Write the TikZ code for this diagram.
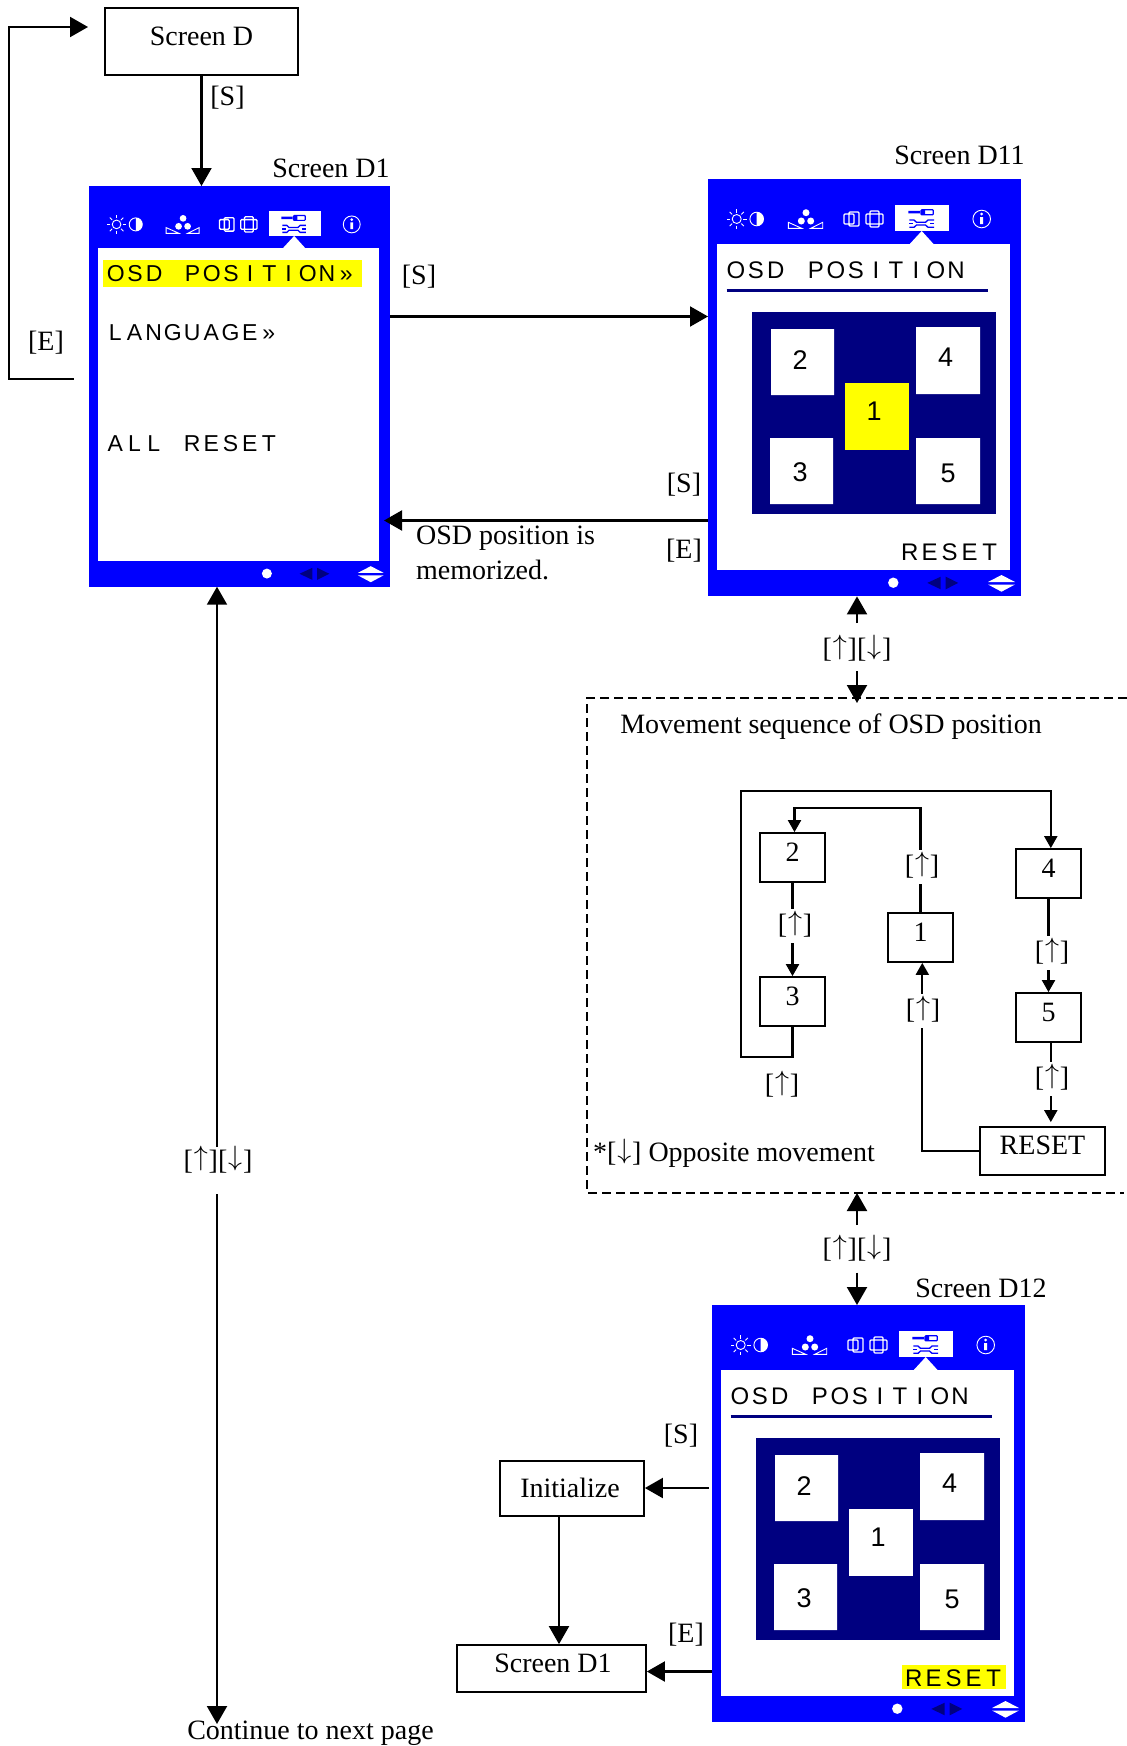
\documentclass[tikz,border=0pt]{standalone}
\usepackage{fix-cm}
\usepackage{fontspec}
\setmainfont{Liberation Serif}
\newfontfamily\osdA{Liberation Sans}
\newfontfamily\digitf{Liberation Sans}
\usetikzlibrary{arrows.meta}
\definecolor{scrblue}{RGB}{0,0,255}
\definecolor{scrnavy}{RGB}{0,0,128}
\definecolor{scryel}{RGB}{255,255,0}
\newcommand\ua{\kern.03em\raisebox{.13em}[.62em][.1em]{$\uparrow$}\kern.03em}
\newcommand\da{\kern.03em\raisebox{.13em}[.62em][.1em]{$\downarrow$}\kern.03em}
\newcommand\ub{[\ua]}
\newcommand\ud{[\ua][\da]}
\newcommand\rai[1]{\raisebox{-4pt}[0pt][0pt]{#1}}
% fixed pitch lettering of the on-screen menus
\newlength\pitch
\def\monoloop#1{\ifx#1\relax\else\makebox[\pitch][c]{#1}\expandafter\monoloop\fi}
\newcommand\mono[2]{\setlength\pitch{#1pt}\monoloop#2\relax}
\tikzset{
  txt/.style={font=\fontsize{28}{30}\selectfont,inner sep=0pt,yshift=-2pt},
  wlab/.style={txt,fill=white,inner ysep=5pt,inner xsep=0pt},
  arr/.style={-{Triangle[length=18pt,width=20pt]},line width=2.1pt},
  sarr/.style={-{Triangle[length=12pt,width=13pt]},line width=2.1pt},
  tbox/.style={draw,line width=1.8pt,fill=white,inner sep=0pt,font=\fontsize{28}{30}\selectfont},
  osd/.style={anchor=base west,inner sep=0pt,font=\osdA\fontsize{24}{24}\selectfont},
  osds/.style={anchor=base west,inner sep=0pt,font=\osdA\fontsize{23}{24}\selectfont},
  dig/.style={inner sep=0pt,font=\digitf\fontsize{27}{27}\selectfont},
  ico/.style={white,line width=.9pt},
}
\newcommand\screenframe[4]{%
  \begin{scope}[shift={(#2,#3)},scale=#4]
    \node[fill=scrblue,anchor=north west,inner sep=0pt,minimum width={313pt*#4},minimum height={417pt*#4}] (#1) at (0,0) {};
    \fill[white] (9,65) rectangle (302,391);
    % sun, half disc
    \draw[ico] (28.7,40) circle (4.5);
    \foreach \a in {0,45,...,315} \draw[ico] (28.7,40) ++(\a:6.5) -- ++(\a:3.5);
    \draw[ico] (48.7,40) circle (6.8);
    \fill[white] (48.7,46.8) arc (90:-90:6.8) -- cycle;
    % colour dots
    \fill[white] (98,33.7) circle (3.5) (93.3,42) circle (3.5) (102.7,42) circle (3.5);
    \draw[ico] (80.3,43.3) -- (80.3,49.3) -- (93.7,49.3) -- cycle (114.7,43.3) -- (114.7,49.3) -- (102.7,49.3) -- cycle;
    % geometry icons
    \draw[ico,line width=1.3pt,rounded corners=1pt] (136,35) rectangle (146,45) (141,33) rectangle (151,47);
    \draw[ico,line width=1.3pt,rounded corners=1pt] (158,35) rectangle (175,45) (162,32) rectangle (171,48);
    % tool tab
    \fill[white] (187,26) rectangle (241.3,52.3);
    \fill[white] (213.7,52) -- (201.3,65.5) -- (226,65.5) -- cycle;
    \draw[scrblue,line width=1.2pt,rounded corners=.8pt] (213,30.8) rectangle (225.3,35.8);
    \fill[scrblue] (200.3,31.8) rectangle (212,34.4) (213,30.8) rectangle (217,35.8);
    \draw[scrblue,line width=1.3pt] (201.3,41) -- (206,41) -- (208.5,43.3) -- (217.5,43.3) -- (220,41) -- (226,41);
    \draw[scrblue,line width=1.3pt] (201.3,48.3) -- (206,48.3) -- (208.5,46) -- (217.5,46) -- (220,48.3) -- (226,48.3);
    \draw[scrblue,line width=1.3pt] (201.3,44.7) -- (205,44.7) (222,44.7) -- (226,44.7);
    % info
    \draw[ico] (273.7,40) circle (8.8);
    \fill[white] (273.7,35) circle (1.5) (272.2,38) rectangle (275.2,45);
    % bottom bar
    \fill[white] (185.3,403.7) circle (5.2);
    \fill[scrnavy] (232.7,397.7) -- (219.3,403.9) -- (232.7,410.3) -- cycle;
    \fill[scrnavy] (237.7,397.7) -- (250.3,403.9) -- (237.7,410.3) -- cycle;
    \fill[white] (280,403) -- (293.5,396) -- (307,403) -- cycle (280,405.5) -- (293.5,412.7) -- (307,405.5) -- cycle;
  \end{scope}}
\newcommand\panel[4]{%
  \begin{scope}[shift={(#2,#3)}]
    \node[osd] (#1t) at (725.7,278.3) {\mono{20}{OSD~POSITION}};
    \draw[scrnavy,line width=3pt] (726.7,290) -- (988.3,290);
    \fill[scrnavy] (752,312) rectangle (996,514);
    \fill[white] (771,329) rectangle (834,395) (916,327) rectangle (980,394) (770,438) rectangle (833,504) (916,438) rectangle (980,504);
    \fill[#4] (845,383) rectangle (909,450);
    \node[dig] (#1d2) at (800,360) {2};
    \node[dig] (#1d4) at (945.5,357.5) {4};
    \node[dig] (#1d1) at (874,411) {1};
    \node[dig] (#1d3) at (800,472) {3};
    \node[dig] (#1d5) at (948,473) {5};
  \end{scope}}
\begin{document}
\begin{tikzpicture}[x=1pt,y=-1pt]
\useasboundingbox (0,0) rectangle (1127,1746);
% Screens
\screenframe{dA}{89}{186}{.96}
\screenframe{dB}{708}{179}{1}
\screenframe{dC}{712}{1305}{1}
% D1 menu
\fill[scryel] (103.3,260) rectangle (361.7,287.3);
\node[osds] (m1) at (106,281.7) {\mono{19.2}{OSD~POSITION»}};
\node[osds] (m2) at (105.5,340) {\mono{19.2}{LANGUAGE»}};
\node[osds] (m3) at (105.5,451) {\mono{19.2}{ALL~RESET}};
% D11, D12 panels
\panel{pb}{0}{0}{scryel}
\panel{pc}{4}{1126}{white}
\node[osd] (rb) at (899.5,560.7) {\mono{20}{RESET}};
\fill[scryel] (902,1665) rectangle (1006,1689);
\node[osd] (rc) at (903.5,1686.7) {\mono{20}{RESET}};
% Titles
\node[tbox,minimum width=193pt,minimum height=67pt] (sd) at (201.5,41.5) {\rai{Screen D}};
\node[txt] (t1) at (331,166) {Screen D1};
\node[txt] (t2) at (959.5,153) {Screen D11};
\node[txt] (t3) at (981,1286) {Screen D12};
% Top connectors
\draw[arr] (sd.south) -- (sd.south |- dA.north);
\node[txt] (ls1) at (227.5,96) {[S]};
\coordinate (e0) at (73.5,379);
\coordinate (e1) at (9,379);
\coordinate (e2) at (9,27);
\coordinate (e3) at (88,27);
\draw[arr] (e0) -- (e1) -- (e2) -- (e3);
\node[txt] (le1) at (46,341) {[E]};
\coordinate (a1) at (390,316.5);
\draw[arr] (a1) -- (a1 -| dB.west);
\node[txt] (ls2) at (419,275) {[S]};
\coordinate (a2) at (708,520.5);
\coordinate (a3) at (384,520.5);
\draw[arr] (a2) -- (a3);
\node[txt,anchor=west] (o1) at (416,536) {OSD position is};
\node[txt,anchor=west] (o2) at (416,568) {memorized.};
\node[txt] (ls3) at (684,483) {[S]};
\node[txt] (le3) at (684,549) {[E]};
% Long arrow
\node[txt] (lab1) at (218,1159.5) {\ud};
\node[txt] (cnt) at (310.5,1731) {Continue to next page};
\coordinate (l1a) at (217,1147);
\coordinate (l1b) at (217,1194);
\coordinate (cnt0) at (217,1724);
\draw[arr] (l1a) -- (l1a |- dA.south);
\draw[arr] (l1b) -- (cnt0);
% D11 <-> dashed box
\node[txt] (lab2) at (857,648) {\ud};
\coordinate (l2a) at (857,623);
\coordinate (l2b) at (857,671);
\coordinate (tb) at (857,703);
\draw[arr] (l2a) -- (l2a |- dB.south);
\draw[arr] (l2b) -- (tb);
\coordinate (q1) at (1127,698);
\coordinate (q2) at (587,698);
\coordinate (q3) at (587,1193);
\coordinate (q4) at (1124,1193);
\draw[line width=1.4pt,dash pattern=on 9pt off 5pt] (q1) -- (q2) -- (q3) -- (q4);
\node[txt] (mv) at (831,725) {Movement sequence of OSD position};
\node[txt,anchor=west] (op) at (593,1153) {*[\da] Opposite movement};
% dashed box <-> D12
\node[txt] (lab3) at (857,1248) {\ud};
\coordinate (l3a) at (857,1225);
\coordinate (l3b) at (857,1272.7);
\coordinate (bb) at (857,1193);
\draw[arr] (l3a) -- (bb);
\draw[arr] (l3b) -- (l3b |- dC.north);
% Sequence boxes
\node[tbox,minimum width=65pt,minimum height=49pt] (b2) at (792.5,857.5) {\rai{2}};
\node[tbox,minimum width=65pt,minimum height=49pt] (b3) at (792.5,1001.5) {\rai{3}};
\node[tbox,minimum width=65pt,minimum height=49pt] (b1) at (920.5,937.5) {\rai{1}};
\node[tbox,minimum width=65pt,minimum height=49pt] (b4) at (1048.5,873.5) {\rai{4}};
\node[tbox,minimum width=65pt,minimum height=49pt] (b5) at (1048.5,1017.5) {\rai{5}};
\node[tbox,minimum width=125pt,minimum height=48pt] (br) at (1042.5,1151) {\raisebox{-3pt}[0pt][0pt]{RESET}};
\coordinate (c12) at (860,807.7);
\coordinate (c31) at (741,1057);
\coordinate (c32) at (900,791);
\draw[sarr] (b1.north) |- (c12) -| ([xshift=2pt]b2.north);
\draw[sarr] (b3.south) |- (c31) |- (c32) -| ([xshift=2.3pt]b4.north);
\draw[sarr] (b2.south) -- (b3.north);
\draw[sarr] (b4.south) -- (b5.north);
\draw[sarr,shorten >=4pt] ([xshift=2.3pt]b5.south) -- ([xshift=2.3pt]b5.south |- br.north);
\draw[sarr] (br.west) -| ([xshift=1.8pt]b1.south);
\node[wlab] (u1) at (922,865) {\ub};
\node[wlab] (u2) at (795,924) {\ub};
\node[wlab] (u3) at (1052,951) {\ub};
\node[wlab] (u4) at (923,1009) {\ub};
\node[wlab] (u5) at (1052,1077) {\ub};
\node[txt] (u6) at (782,1084) {\ub};
% Bottom
\node[tbox,minimum width=144pt,minimum height=55pt] (ini) at (572,1488.5) {\hspace*{-4pt}\raisebox{1pt}{Initialize}};
\node[tbox,minimum width=189pt,minimum height=47pt] (sd1) at (551.5,1668.5) {\hspace*{3pt}\rai{Screen D1}};
\coordinate (i0) at (709,1488);
\coordinate (i1) at (712,1671.5);
\coordinate (i2) at (559,1516);
\draw[arr] (i0) -- (i0 -| ini.east);
\draw[arr] (i1) -- (i1 -| sd1.east);
\draw[arr] (i2) -- (i2 |- sd1.north);
\node[txt] (ls4) at (681,1434) {[S]};
\node[txt] (le4) at (686,1633) {[E]};
\end{tikzpicture}
\end{document}
